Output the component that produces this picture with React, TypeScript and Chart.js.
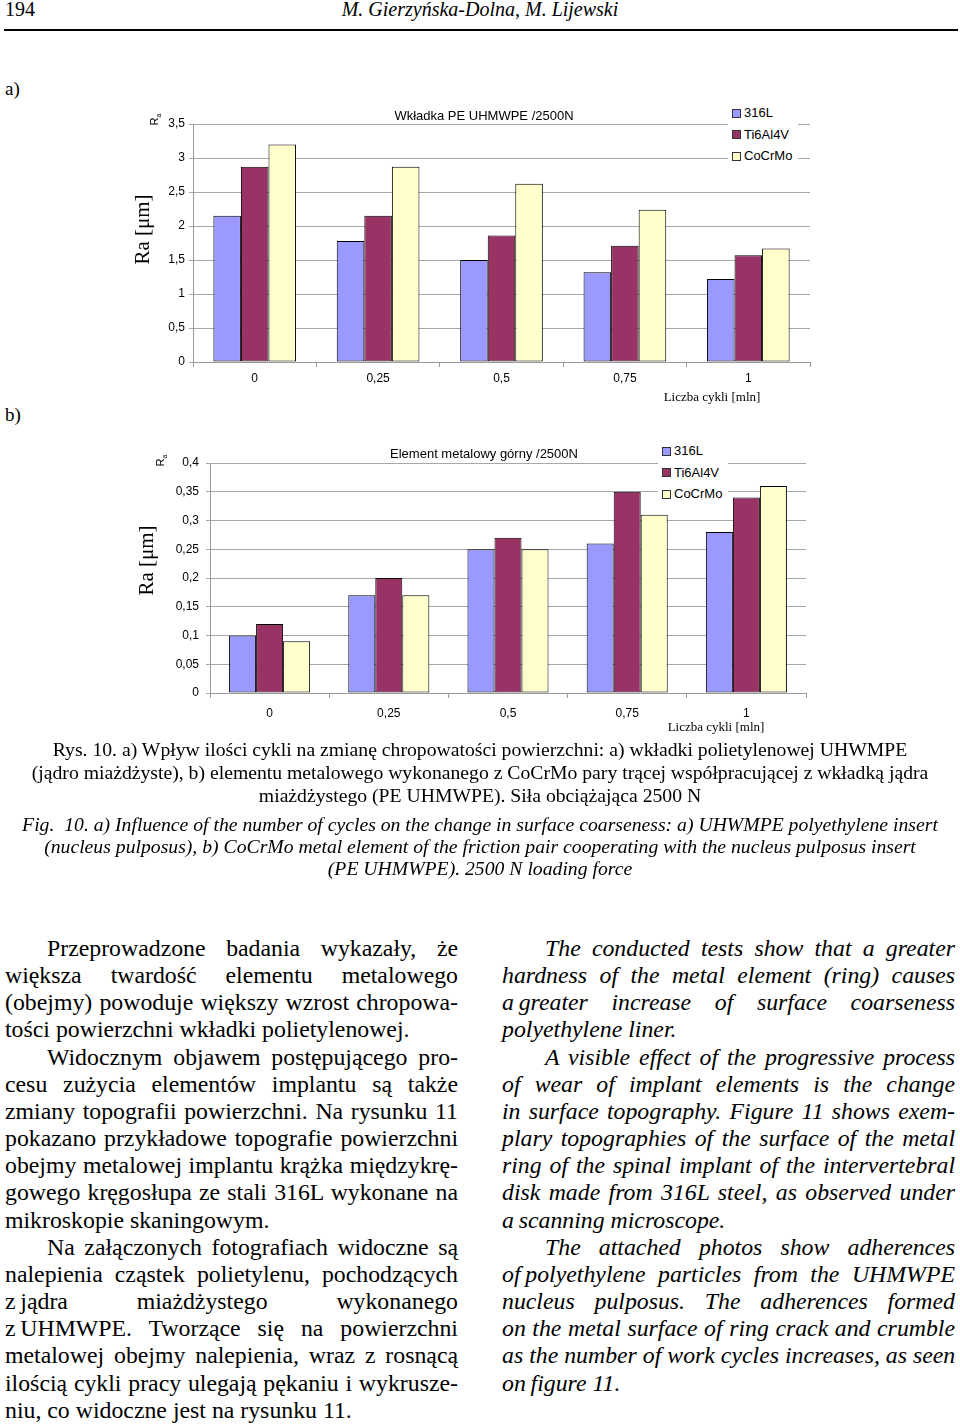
import React, { useEffect, useRef } from "react";
import Chart from "chart.js/auto";

// ---------- data ----------
const categories = ["0", "0,25", "0,5", "0,75", "1"];
const seriesNames = ["316L", "Ti6Al4V", "CoCrMo"];
const seriesColors = ["#9999FF", "#993366", "#FFFFCC"];

// a) Wkładka PE UHMWPE /2500N
const insert316L = [2.15, 1.78, 1.5, 1.32, 1.22];
const insertTi6Al4V = [2.87, 2.15, 1.86, 1.71, 1.57];
const insertCoCrMo = [3.2, 2.87, 2.62, 2.24, 1.67];

// b) Element metalowy górny /2500N
const metal316L = [0.1, 0.17, 0.25, 0.26, 0.28];
const metalTi6Al4V = [0.12, 0.2, 0.27, 0.35, 0.34];
const metalCoCrMo = [0.09, 0.17, 0.25, 0.31, 0.36];

const titleA = "Wkładka PE UHMWPE /2500N";
const titleB = "Element metalowy górny /2500N";
const xAxisTitle = "Liczba cykli [mln]";

// ---------- chart ----------
type BarProps = {
  left: number;
  top: number;
  width: number;
  height: number;
  series: number[][];
  max: number;
  step: number;
  yWidth: number;
  yPad: number;
  xHeight: number;
  xPad: number;
  padding: { left: number; top: number; right: number; bottom: number };
  catPct: number;
};

function fmt(v: number) {
  const r = Math.round(v * 100) / 100;
  return String(r).replace(".", ",");
}

function BarChart(p: BarProps) {
  const ref = useRef<HTMLCanvasElement | null>(null);
  useEffect(() => {
    if (!ref.current) return;
    const chart = new Chart(ref.current, {
      type: "bar",
      data: {
        labels: categories,
        datasets: p.series.map((vals, i) => ({
          label: seriesNames[i],
          data: vals,
          backgroundColor: seriesColors[i],
          borderColor: "#000000",
          borderWidth: 1,
          borderSkipped: false,
          categoryPercentage: p.catPct,
          barPercentage: 1,
        })),
      },
      options: {
        responsive: false,
        animation: false,
        devicePixelRatio: 1,
        layout: { padding: p.padding },
        plugins: {
          legend: { display: false },
          title: { display: false },
          tooltip: { enabled: false },
        },
        scales: {
          x: {
            grid: {
              display: true,
              drawOnChartArea: false,
              drawTicks: true,
              tickLength: 5,
              color: "#9a9a9a",
            },
            border: { display: true, color: "#9a9a9a" },
            ticks: {
              color: "#000",
              padding: p.xPad,
              font: { family: "Liberation Sans", size: 12 },
              maxRotation: 0,
            },
            afterFit: (s: any) => {
              s.height = p.xHeight;
            },
          },
          y: {
            min: 0,
            max: p.max,
            grid: {
              color: "#a8a8a8",
              tickLength: 4,
              drawTicks: true,
            },
            border: { display: true, color: "#9a9a9a" },
            ticks: {
              stepSize: p.step,
              color: "#000",
              padding: p.yPad,
              font: { family: "Liberation Sans", size: 12 },
              callback: (v: any) => fmt(Number(v)),
            },
            afterFit: (s: any) => {
              s.width = p.yWidth;
            },
          },
        },
      },
    });
    return () => chart.destroy();
  }, []);
  return (
    <canvas
      ref={ref}
      width={p.width}
      height={p.height}
      style={{ position: "absolute", left: p.left, top: p.top, width: p.width, height: p.height }}
    />
  );
}

// ---------- text helpers ----------
function T(props: {
  x: number;
  y: number;
  size: number;
  italic?: boolean;
  sans?: boolean;
  center?: boolean;
  children: React.ReactNode;
}) {
  const { x, y, size, italic, sans, center, children } = props;
  const style: React.CSSProperties = {
    position: "absolute",
    top: y - size * (sans ? 0.5 : 0.55),
    fontSize: size,
    lineHeight: `${size}px`,
    fontStyle: italic ? "italic" : "normal",
    fontFamily: sans ? "'Liberation Sans', Arial, sans-serif" : "'Liberation Serif', 'Times New Roman', serif",
    whiteSpace: "pre",
    color: "#000",
  };
  if (center) {
    style.left = x - 480;
    style.width = 960;
    style.textAlign = "center";
  } else {
    style.left = x;
  }
  return <div style={style}>{children}</div>;
}

function Legend({ x, y }: { x: number; y: number }) {
  return (
    <div
      style={{
        position: "absolute",
        left: x,
        top: y,
        width: 70,
        height: 66,
        background: "#fff",
      }}
    >
      {seriesNames.map((n, i) => (
        <div
          key={n}
          style={{
            position: "absolute",
            left: 4,
            top: 5 + i * 21.5,
            height: 14,
            display: "flex",
            alignItems: "center",
            fontFamily: "'Liberation Sans', Arial, sans-serif",
            fontSize: 13,
            lineHeight: "14px",
            whiteSpace: "pre",
          }}
        >
          <span
            style={{
              display: "inline-block",
              width: 7,
              height: 7,
              border: "1px solid #333",
              background: seriesColors[i],
              marginRight: 3,
            }}
          />
          {n}
        </div>
      ))}
    </div>
  );
}

function RotLabel({ x, y, size, children, sans }: { x: number; y: number; size: number; children: React.ReactNode; sans?: boolean }) {
  return (
    <div
      style={{
        position: "absolute",
        left: x - 100,
        top: y - size / 2,
        width: 200,
        height: size,
        lineHeight: `${size}px`,
        textAlign: "center",
        fontSize: size,
        fontFamily: sans ? "'Liberation Sans', Arial, sans-serif" : "'Liberation Serif', 'Times New Roman', serif",
        transform: "rotate(-90deg)",
        whiteSpace: "pre",
      }}
    >
      {children}
    </div>
  );
}

// "~" marks a space that is not stretched by justification
const leftLines: [string, number][] = [
  ["Przeprowadzone badania wykazały, że", 1],
  ["większa twardość elementu metalowego", 0],
  ["(obejmy) powoduje większy wzrost chropowa-", 0],
  ["tości powierzchni wkładki polietylenowej.", 2],
  ["Widocznym objawem postępującego pro-", 1],
  ["cesu zużycia elementów implantu są także", 0],
  ["zmiany topografii powierzchni. Na rysunku 11", 0],
  ["pokazano przykładowe topografie powierzchni", 0],
  ["obejmy metalowej implantu krążka międzykrę-", 0],
  ["gowego kręgosłupa ze stali 316L wykonane na", 0],
  ["mikroskopie skaningowym.", 2],
  ["Na załączonych fotografiach widoczne są", 1],
  ["nalepienia cząstek polietylenu, pochodzących", 0],
  ["z~jądra miażdżystego wykonanego", 0],
  ["z~UHMWPE. Tworzące się na powierzchni", 0],
  ["metalowej obejmy nalepienia, wraz z rosnącą", 0],
  ["ilością cykli pracy ulegają pękaniu i wykrusze-", 0],
  ["niu, co widoczne jest na rysunku 11.", 2],
];

const rightLines: [string, number][] = [
  ["The conducted tests show that a greater", 1],
  ["hardness of the metal element (ring) causes", 0],
  ["a~greater increase of surface coarseness", 0],
  ["polyethylene liner.", 2],
  ["A visible effect of the progressive process", 1],
  ["of wear of implant elements is the change", 0],
  ["in surface topography. Figure 11 shows exem-", 0],
  ["plary topographies of the surface of the metal", 0],
  ["ring of the spinal implant of the intervertebral", 0],
  ["disk made from 316L steel, as observed under", 0],
  ["a~scanning microscope.", 2],
  ["The attached photos show adherences", 1],
  ["of~polyethylene particles from the UHMWPE", 0],
  ["nucleus pulposus. The adherences formed", 0],
  ["on the metal surface of ring crack and crumble", 0],
  ["as the number of work cycles increases, as seen", 0],
  ["on~figure 11.", 2],
];

function renderLine(t: string) {
  const words = t.split(" ");
  const out: React.ReactNode[] = [];
  words.forEach((w, i) => {
    if (i > 0) out.push(" ");
    if (w.includes("~")) {
      out.push(
        <span key={i} style={{ display: "inline-block" }}>
          {w.replace(/~/g, "\u2009")}
        </span>
      );
    } else {
      out.push(w);
    }
  });
  return out;
}

function Column({ x, width, lines, italic, indent }: { x: number; width: number; lines: [string, number][]; italic?: boolean; indent: number }) {
  const size = 23.8;
  return (
    <>
      {lines.map(([t, kind], i) => (
        <div
          key={i}
          style={{
            position: "absolute",
            left: x,
            top: 950 + i * 27.17 - size * 0.55,
            width: width,
            boxSizing: "border-box",
            paddingLeft: kind === 1 ? indent : 0,
            fontSize: size,
            lineHeight: `${size}px`,
            fontFamily: "'Liberation Serif', 'Times New Roman', serif",
            fontStyle: italic ? "italic" : "normal",
            textAlign: kind === 2 ? "left" : "justify",
            textAlignLast: kind === 2 ? "left" : "justify",
            whiteSpace: "nowrap",
          }}
        >
          {renderLine(t)}
        </div>
      ))}
    </>
  );
}

export default function App() {
  return (
    <div
      style={{
        position: "absolute",
        left: 0,
        top: 0,
        width: 960,
        height: 1425,
        background: "#fff",
        overflow: "hidden",
        color: "#000",
      }}
    >
      {/* header */}
      <T x={5} y={10} size={20}>194</T>
      <T x={480} y={10} size={20} italic center>M. Gierzyńska-Dolna, M. Lijewski</T>
      <div style={{ position: "absolute", left: 4, top: 29, width: 954, height: 2, background: "#000" }} />

      <T x={5} y={89} size={19}>a)</T>
      <T x={5} y={415} size={19}>b)</T>

      {/* chart a */}
      <BarChart
        left={130}
        top={100}
        width={690}
        height={290}
        series={[insert316L, insertTi6Al4V, insertCoCrMo]}
        max={3.5}
        step={0.5}
        yWidth={63}
        yPad={4}
        xHeight={28}
        xPad={4}
        padding={{ left: 0, top: 24, right: 10, bottom: 0 }}
        catPct={0.67}
      />
      <T x={484} y={115} size={13} sans center>{titleA}</T>
      <Legend x={728} y={101} />
      <RotLabel x={142} y={229} size={21}>Ra [μm]</RotLabel>
      <RotLabel x={154} y={119} size={11} sans>
        <span>R<sub style={{ fontSize: 7 }}>a</sub></span>
      </RotLabel>
      <T x={712} y={397} size={13} center>{xAxisTitle}</T>

      {/* chart b */}
      <BarChart
        left={140}
        top={440}
        width={680}
        height={280}
        series={[metal316L, metalTi6Al4V, metalCoCrMo]}
        max={0.4}
        step={0.05}
        yWidth={70}
        yPad={7}
        xHeight={27}
        xPad={8}
        padding={{ left: 0, top: 23, right: 14, bottom: 0 }}
        catPct={0.68}
      />
      <T x={484} y={453} size={13} sans center>{titleB}</T>
      <Legend x={658} y={439} />
      <RotLabel x={146} y={560} size={21}>Ra [μm]</RotLabel>
      <RotLabel x={160} y={460} size={11} sans>
        <span>R<sub style={{ fontSize: 7 }}>a</sub></span>
      </RotLabel>
      <T x={716} y={727} size={13} center>{xAxisTitle}</T>

      {/* captions */}
      <T x={480} y={751} size={19.7} center>Rys. 10. a) Wpływ ilości cykli na zmianę chropowatości powierzchni: a) wkładki polietylenowej UHWMPE</T>
      <T x={480} y={774} size={19.7} center>(jądro miażdżyste), b) elementu metalowego wykonanego z CoCrMo pary trącej współpracującej z wkładką jądra</T>
      <T x={480} y={797} size={19.7} center>miażdżystego (PE UHMWPE). Siła obciążająca 2500 N</T>
      <T x={480} y={826} size={19.7} italic center>Fig.  10. a) Influence of the number of cycles on the change in surface coarseness: a) UHWMPE polyethylene insert</T>
      <T x={480} y={848} size={19.7} italic center>(nucleus pulposus), b) CoCrMo metal element of the friction pair cooperating with the nucleus pulposus insert</T>
      <T x={480} y={870} size={19.7} italic center>(PE UHMWPE). 2500 N loading force</T>

      {/* body text */}
      <Column x={5} width={453} lines={leftLines} indent={42} />
      <Column x={502} width={453} lines={rightLines} italic indent={43} />
    </div>
  );
}
